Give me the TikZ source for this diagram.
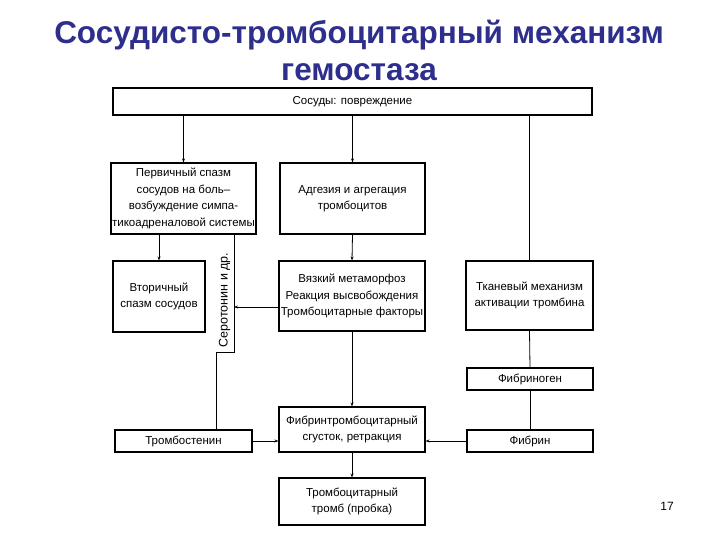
\documentclass[tikz,border=0pt]{standalone}
\usepackage{fontspec}
\setmainfont{Liberation Sans}
\usetikzlibrary{arrows.meta}
\definecolor{titleblue}{RGB}{46,46,140}
\tikzset{
  blk/.style={draw, line width=1.1pt, inner sep=0pt, align=center,
    font=\fontsize{11.5}{16.5}\selectfont},
  lnk/.style={line width=0.8pt},
  arr/.style={lnk, -{Stealth[length=4pt, width=3pt]}}
}

\begin{document}
\begin{tikzpicture}[x=1pt, y=-1pt]
\path (0,0) rectangle (720,540);
\node[font=\fontsize{31.5}{37}\selectfont\bfseries, text=titleblue, align=center] (title) at (359,50) {Сосудисто-тромбоцитарный механизм\\гемостаза};
\node[blk, minimum width=479pt, minimum height=27pt] (vessels) at (352.5,101.5) {Сосуды: повреждение};
\node[blk, minimum width=145pt, minimum height=71pt] (prim) at (183.5,198.5) {Первичный спазм\\сосудов на боль--\\возбуждение симпа-\\тикоадреналовой системы};
\node[blk, minimum width=145pt, minimum height=71pt] (adh) at (352.5,198.5) {Адгезия и агрегация\\тромбоцитов};
\node[blk, minimum width=92pt, minimum height=71pt] (sec) at (159,296.5) {Вторичный\\спазм сосудов};
\node[blk, minimum width=146pt, minimum height=70pt] (visc) at (352,296) {Вязкий метаморфоз\\Реакция высвобождения\\Тромбоцитарные факторы};
\node[blk, minimum width=127pt, minimum height=69pt] (tiss) at (529.5,295.5) {Тканевый механизм\\активации тромбина};
\node[blk, minimum width=126pt, minimum height=22pt] (fibgen) at (530,379) {Фибриноген};
\node[blk, minimum width=137pt, minimum height=22pt] (tsten) at (183.5,441) {Тромбостенин};
\node[blk, minimum width=146pt, minimum height=45pt] (clot) at (352,429.5) {Фибринтромбоцитарный\\сгусток, ретракция};
\node[blk, minimum width=126pt, minimum height=22pt] (fibrin) at (530,441) {Фибрин};
\node[blk, minimum width=146pt, minimum height=47pt] (plug) at (352,501.5) {Тромбоцитарный\\тромб (пробка)};
\node[rotate=90, font=\fontsize{12.5}{14}\selectfont] (sero) at (224.5,300) {Серотонин и др.};
\node[font=\fontsize{12}{14}\selectfont] (page) at (667,506) {17};
\coordinate (serIn) at (234,307);
\coordinate (serR) at (234,352);
\coordinate (serL) at (216,352);
\draw[arr] (vessels.south -| prim.north) -- (prim.north);
\draw[arr] (vessels.south -| adh.north) -- (adh.north);
\draw[lnk] (vessels.south -| tiss.north) -- (tiss.north);
\draw[arr] (prim.south -| sec.north) -- (sec.north);
\draw[arr] (adh.south) -- (visc.north);
\draw[arr] (visc.south) -- (clot.north);
\draw[arr] (clot.south) -- (plug.north);
\draw[lnk] (tiss.south) -- (fibgen.north);
\draw[lnk] (fibgen.south) -- (fibrin.north);
\draw[arr] (fibrin.west) -- (clot.east |- fibrin.west);
\draw[arr] (tsten.east) -- (clot.west |- tsten.east);
\draw[arr] (visc.west |- serIn) -- (serIn);
\draw[lnk] (prim.south -| serR) -- (serR) -- (serL) -- (tsten.north -| serL);
\end{tikzpicture}
\end{document}
